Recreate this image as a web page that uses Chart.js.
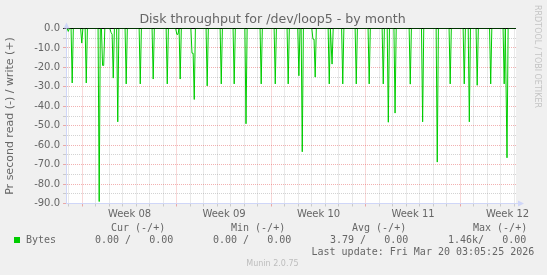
<!DOCTYPE html>
<html>
<head>
<meta charset="utf-8">
<script src="https://cdn.jsdelivr.net/npm/chart.js@4/dist/chart.umd.min.js"></script>
<style>
  body { margin: 0; background: #f0f0f0; }
  #wrap { position: relative; width: 547px; height: 275px; font-family: "DejaVu Sans", sans-serif; color: #666; }
  canvas { position: absolute; left: 0; top: 0; }
  .abs { position: absolute; white-space: pre; line-height: 1; }
  .mono { font-family: "DejaVu Sans Mono", monospace; font-size: 10px; }
</style>
</head>
<body>
<div id="wrap">
  <canvas id="chart" width="547" height="275"></canvas>
  <div id="title" class="abs" style="left:0;width:545px;top:13.4px;font-size:12.6px;text-align:center;"></div>
  <div id="credit" class="abs" style="left:533px;top:5px;font-size:8px;color:#c4c4c4;writing-mode:vertical-rl;"></div>
  <div id="legend"></div>
  <div id="version" class="abs" style="left:0;width:545px;top:260px;font-size:8px;color:#bdbdbd;text-align:center;"></div>
</div>
<script>
// hours since the left edge of the graph (33 days shown), read rate in bytes/s (negative = read)
const sampleHours = [4, 11, 28, 36, 59, 65, 67, 80, 82, 84, 92, 107, 132, 155, 180, 197, 199, 203, 224, 226,
  228, 251, 276, 299, 320, 347, 372, 395, 414, 420, 439, 441, 443, 468, 473, 492, 516, 539, 564, 573,
  585, 612, 634, 660, 683, 708, 717, 731, 755, 779, 784];
const readBytes = [-1.5, -28, -7.5, -28, -89, -19, -19, -2, -3, -25.5, -48, -28.5, -28.5, -26, -28.5, -3, -3, -26, -12.7, -12.7,
  -36.5, -29.5, -28.5, -28.5, -49, -28.5, -28.5, -28.5, -24.3, -63.4, -5.5, -5.5, -25, -28.5, -18.3, -28.5, -28.5, -28.5, -28.5, -48.2,
  -43.5, -28.6, -48, -68.7, -28.5, -28.5, -48, -29.2, -28.5, -28.5, -66.5];

const weekLabels = ['Week 08', 'Week 09', 'Week 10', 'Week 11', 'Week 12'];
const weekLabelHours = [113, 281, 449, 617, 785];
const weekStartHours = [29, 197, 365, 533, 701];

const legendHeaders = ['Cur (-/+)', 'Min (-/+)', 'Avg (-/+)', 'Max (-/+)'];
const readStats = ['0.00', '0.00', '3.79', '1.46k'];
const writeStats = ['0.00', '0.00', '0.00', '0.00'];

const titleText = 'Disk throughput for /dev/loop5 - by month';
const yTitle = 'Pr second read (-) / write (+)';
const lastUpdate = 'Last update: Fri Mar 20 03:05:25 2026';

const GREEN = '#00cc00';
const AXIS = '#cfd6f8';
const GRID = 'rgba(140,140,140,0.38)';
const MGRID = 'rgba(225,70,70,0.42)';

document.getElementById('title').textContent = titleText;
document.getElementById('credit').textContent = 'RRDTOOL / TOBI OETIKER';
document.getElementById('version').textContent = 'Munin 2.0.75';

// legend block (munin style, monospace)
function addText(cls, left, top, text) {
  const d = document.createElement('div');
  d.className = 'abs ' + cls;
  d.style.left = left + 'px';
  d.style.top = top + 'px';
  d.textContent = text;
  document.getElementById('legend').appendChild(d);
}
const headLeft = [111, 231, 352, 473];
const valLeft = [95, 213, 330, 448];
legendHeaders.forEach((h, i) => addText('mono', headLeft[i], 222.5, h));
addText('mono', 26, 234.8, 'Bytes');
readStats.forEach((r, i) => {
  const left = /[a-z]$/i.test(r) ? r : r + ' ';
  addText('mono', valLeft[i], 234.8, left + '/' + writeStats[i].padStart(7));
});
addText('mono', 311.5, 246.8, lastUpdate);
const sq = document.createElement('div');
sq.style.cssText = 'position:absolute;left:14px;top:237px;width:6px;height:6px;background:' + GREEN;
document.getElementById('legend').appendChild(sq);

// samples are 2h averages; everything not listed reads 0
function buildSeries() {
  const pts = [{x: 0, y: 0}];
  sampleHours.forEach((h, i) => {
    const prev = i > 0 ? sampleHours[i - 1] : -Infinity;
    if (h - prev > 2 && pts[pts.length - 1].x < h - 2) pts.push({x: h - 2, y: 0});
    pts.push({x: h, y: readBytes[i]});
    const next = i < sampleHours.length - 1 ? sampleHours[i + 1] : Infinity;
    if (next - h > 2) pts.push({x: h + 2, y: 0});
  });
  pts.push({x: 800, y: 0});
  return pts;
}

const frame = {
  id: 'frame',
  beforeDraw(chart) {
    const {ctx, chartArea: a} = chart;
    ctx.save();
    ctx.fillStyle = '#ffffff';
    ctx.fillRect(a.left, a.top, a.right - a.left, a.bottom - a.top);
    ctx.restore();
  },
  afterDraw(chart) {
    const {ctx, chartArea: a} = chart;
    const x = Math.round(a.left) + 0.5, y = Math.round(a.bottom) - 0.5;
    ctx.save();
    ctx.strokeStyle = AXIS;
    ctx.fillStyle = AXIS;
    ctx.lineWidth = 1;
    ctx.beginPath();
    ctx.moveTo(x, a.top); ctx.lineTo(x, a.top - 2);
    ctx.moveTo(a.right, y); ctx.lineTo(a.right + 3, y);
    ctx.stroke();
    ctx.beginPath();
    ctx.moveTo(x - 3, a.top); ctx.lineTo(x + 3, a.top); ctx.lineTo(x, a.top - 6); ctx.closePath();
    ctx.fill();
    ctx.beginPath();
    ctx.moveTo(a.right + 2, y - 3); ctx.lineTo(a.right + 2, y + 3); ctx.lineTo(a.right + 8, y); ctx.closePath();
    ctx.fill();
    ctx.restore();
  }
};

const tickFont = {family: 'DejaVu Sans', size: 10};

new Chart(document.getElementById('chart').getContext('2d'), {
  type: 'line',
  data: {
    datasets: [{
      label: 'zero',
      data: [{x: 0, y: 0}, {x: 800, y: 0}],
      borderColor: '#000000',
      borderWidth: 1,
      pointRadius: 0,
      order: -1,
      xAxisID: 'x',
      yAxisID: 'y'
    }, {
      label: 'Bytes',
      data: buildSeries(),
      borderColor: GREEN,
      borderWidth: 1,
      pointRadius: 0,
      tension: 0,
      order: 1,
      xAxisID: 'x',
      yAxisID: 'y'
    }]
  },
  options: {
    responsive: false,
    animation: false,
    events: [],
    layout: { padding: { left: 0, right: 31, top: 28.5, bottom: 0 } },
    plugins: {
      legend: { display: false },
      tooltip: { enabled: false },
      title: { display: false }
    },
    scales: {
      x: {
        type: 'linear',
        position: 'bottom',
        weight: 1,
        min: 0,
        max: 800,
        afterBuildTicks: s => { s.ticks = weekLabelHours.map(v => ({value: v})); },
        afterFit: s => { s.height = 71.5; },
        grid: { display: false, drawTicks: false },
        border: { display: true, color: AXIS, width: 1 },
        ticks: {
          autoSkip: false,
          maxRotation: 0,
          padding: 5,
          color: '#666',
          font: tickFont,
          callback: (v, i) => weekLabels[i]
        }
      },
      days: {
        type: 'linear',
        position: 'bottom',
        weight: 0,
        min: 0,
        max: 800,
        afterBuildTicks: s => {
          const t = [];
          for (let h = weekStartHours[0] - 24; h < 800; h += 24) t.push({value: h});
          s.ticks = t;
        },
        afterFit: s => { s.height = 0; },
        grid: {
          drawTicks: true,
          tickLength: 3,
          color: c => weekStartHours.includes(c.tick.value) ? MGRID : GRID
        },
        border: { display: false, dash: [1, 1] },
        ticks: { display: false }
      },
      y: {
        min: -90,
        max: 0,
        afterBuildTicks: s => {
          const t = [];
          for (let v = -90; v <= 0; v += 5) t.push({value: v});
          s.ticks = t;
        },
        afterFit: s => { s.width = 66; },
        grid: {
          drawTicks: true,
          tickLength: 3,
          color: c => c.tick.value === 0 ? '#000000' : (c.tick.value % 10 === 0 ? MGRID : GRID)
        },
        border: {
          display: true,
          color: AXIS,
          width: 1,
          dash: c => (c.tick && c.tick.value === 0) ? [] : [1, 1]
        },
        ticks: {
          autoSkip: false,
          padding: 3,
          color: '#666',
          font: tickFont,
          callback: v => v % 10 === 0 ? v.toFixed(1) : ''
        },
        title: {
          display: true,
          text: yTitle,
          color: '#666',
          font: {family: 'DejaVu Sans', size: 11},
          padding: {top: 4, bottom: 0}
        }
      }
    }
  },
  plugins: [frame]
});
</script>
</body>
</html>
